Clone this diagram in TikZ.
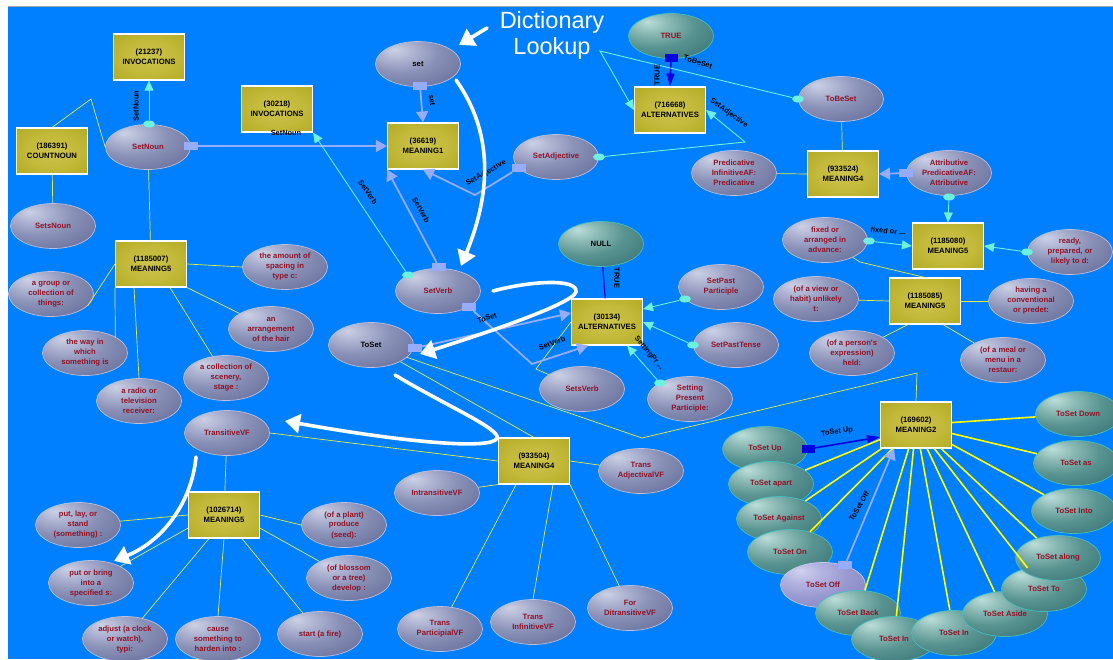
\documentclass[tikz,border=0pt]{standalone}
\usepackage{fontspec}
\newfontfamily\lsans{Liberation Sans}
\usetikzlibrary{shapes.geometric,arrows.meta}

\definecolor{bgblue}{RGB}{0,128,255}
\definecolor{lav}{RGB}{150,172,255}
\definecolor{cyn}{RGB}{110,240,222}
\definecolor{dblue}{RGB}{0,0,225}
\definecolor{ylw}{RGB}{228,236,70}
\definecolor{ylwb}{RGB}{255,255,0}
\definecolor{lblred}{RGB}{145,18,38}
\definecolor{ellrim}{RGB}{185,192,230}
\definecolor{tealrim}{RGB}{70,190,190}
\definecolor{lavrim}{RGB}{200,200,240}

% soft 3D fills for the ellipses and the boxes
\pgfdeclareradialshading{greyell}{\pgfpoint{-14bp}{16bp}}{%
  rgb(0bp)=(0.80,0.82,0.90);
  rgb(10bp)=(0.68,0.70,0.82);
  rgb(22bp)=(0.54,0.57,0.72);
  rgb(40bp)=(0.42,0.45,0.62);
  rgb(55bp)=(0.35,0.38,0.55);
  rgb(90bp)=(0.33,0.36,0.53)}
\pgfdeclareradialshading{tealell}{\pgfpoint{-14bp}{16bp}}{%
  rgb(0bp)=(0.74,0.87,0.85);
  rgb(10bp)=(0.56,0.74,0.72);
  rgb(24bp)=(0.35,0.58,0.57);
  rgb(45bp)=(0.21,0.44,0.45);
  rgb(60bp)=(0.17,0.38,0.40);
  rgb(90bp)=(0.16,0.37,0.39)}
\pgfdeclareradialshading{lavell}{\pgfpoint{-14bp}{16bp}}{%
  rgb(0bp)=(0.82,0.82,0.94);
  rgb(12bp)=(0.70,0.70,0.88);
  rgb(25bp)=(0.60,0.60,0.82);
  rgb(50bp)=(0.48,0.48,0.74);
  rgb(90bp)=(0.45,0.45,0.70)}
\pgfdeclareradialshading{boxsh}{\pgfpoint{0bp}{0bp}}{%
  rgb(0bp)=(0.80,0.77,0.30);
  rgb(20bp)=(0.76,0.72,0.22);
  rgb(38bp)=(0.69,0.66,0.13);
  rgb(50bp)=(0.62,0.59,0.07);
  rgb(72bp)=(0.58,0.55,0.04)}

\begin{document}
\begin{tikzpicture}[x=1pt,y=-1pt,
  txt/.style={font=\lsans\bfseries\fontsize{7.7pt}{10pt}\selectfont, align=center},
  box/.style={txt, rectangle, minimum width=71pt, minimum height=46pt, inner sep=0pt,
    draw=white, line width=1.1pt, shading=boxsh, text=black},
  ell/.style={txt, ellipse, minimum width=85pt, minimum height=45pt, inner sep=0pt,
    shading=greyell, draw=ellrim, line width=0.7pt, text=lblred},
  tel/.style={ell, shading=tealell, draw=tealrim},
  lel/.style={ell, shading=lavell, draw=lavrim},
  sqm/.style={rectangle, fill=lav, minimum width=14pt, minimum height=8pt, inner sep=0pt},
  bsq/.style={rectangle, fill=dblue, minimum width=13pt, minimum height=8pt, inner sep=0pt},
  cdot/.style={ellipse, fill=cyn, minimum width=12pt, minimum height=7pt, inner sep=0pt},
  elab/.style={font=\lsans\bfseries\fontsize{7.4pt}{9pt}\selectfont, text=black, inner sep=0pt},
  lavarrow/.style={draw=lav, line width=1.8pt, -{Triangle[length=11pt,width=12pt]}},
  cyarrow/.style={draw=cyn, line width=0.9pt, -{Triangle[length=10pt,width=9pt]}},
  blarrow/.style={draw=dblue, line width=1.6pt, -{Triangle[length=13pt,width=8pt]}},
  ythin/.style={draw=ylw, line width=0.7pt},
  ythick/.style={draw=ylwb, line width=1.6pt},
  warrow/.style={draw=white, line width=3.6pt, line cap=round, -{Triangle[length=15pt,width=19pt]}}
]
\useasboundingbox (0,0) rectangle (1113,659);
\fill[white] (0,0) rectangle (1113,659);
\fill[bgblue] (8,7) rectangle (1113,659);
\draw[gray!70, line width=0.8pt] (8,6.5) -- (1113,6.5);

% ---------- boxes ----------
\node[box] (inv1) at (149,57)  {(21237)\\INVOCATIONS};
\node[box] (inv2) at (277,109) {(30218)\\INVOCATIONS};
\node[box] (cnt)  at (52,151)  {(186391)\\COUNTNOUN};
\node[box] (m1)   at (423,146) {(36619)\\MEANING1};
\node[box] (alt1) at (670,110) {(716668)\\ALTERNATIVES};
\node[box] (m4a)  at (843,174) {(933524)\\MEANING4};
\node[box] (m5a)  at (151,264) {(1185007)\\MEANING5};
\node[box] (alt2) at (607,322) {(30134)\\ALTERNATIVES};
\node[box] (m5b)  at (948,246) {(1185080)\\MEANING5};
\node[box] (m5c)  at (925,301) {(1185085)\\MEANING5};
\node[box] (m2)   at (916,425) {(169602)\\MEANING2};
\node[box] (m4b)  at (534,461) {(933504)\\MEANING4};
\node[box] (m5d)  at (224,515) {(1026714)\\MEANING5};

% ---------- ellipses ----------
\node[ell, text=black] (eset) at (418,64) {set};
\node[tel] (etrue) at (671,36) {TRUE};
\node[ell] (esetnoun) at (148,147) {SetNoun};
\node[ell] (esetsnoun) at (53,226) {SetsNoun};
\node[ell] (esetadj) at (556,157) {SetAdjective};
\node[ell] (epred) at (734,173) {Predicative\\InfinitiveAF:\\Predicative};
\node[ell] (etobeset) at (841,99) {ToBeSet};
\node[ell] (eattr) at (949,173) {Attributive\\PredicativeAF:\\Attributive};
\node[ell] (efixed) at (825,240) {fixed or\\arranged in\\advance:};
\node[ell] (eready) at (1070,252) {ready,\\prepared, or\\likely to d:};
\node[ell] (eview) at (816,299) {(of a view or\\habit) unlikely\\t:};
\node[ell] (ehaving) at (1031,301) {having a\\conventional\\or predet:};
\node[ell] (eperson) at (852,353) {(of a person's\\expression)\\held:};
\node[ell] (emeal) at (1003,360) {(of a meal or\\menu in a\\restaur:};
\node[ell] (esetverb) at (438,291) {SetVerb};
\node[ell, text=black] (etoset) at (371,345) {ToSet};
\node[tel, text=black] (enull) at (601,244) {NULL};
\node[ell] (epastp) at (721,287) {SetPast\\Participle};
\node[ell] (epastt) at (736,345) {SetPastTense};
\node[ell] (esetsverb) at (582,389) {SetsVerb};
\node[ell] (epresp) at (690,399) {Setting\\Present\\Participle:};
\node[ell] (egroup) at (51,294) {a group or\\collection of\\things:};
\node[ell] (espacing) at (285,267) {the amount of\\spacing in\\type c:};
\node[ell] (ehair) at (271,329) {an\\arrangement\\of the hair};
\node[ell] (eway) at (85,353) {the way in\\which\\something is};
\node[ell] (eradio) at (139,401) {a radio or\\television\\receiver:};
\node[ell] (escenery) at (226,378) {a collection of\\scenery,\\stage :};
\node[ell] (etrans) at (227,433) {TransitiveVF};
\node[ell] (eintrans) at (437,493) {IntransitiveVF};
\node[ell] (eadjvf) at (641,471) {Trans\\AdjectivalVF};
\node[ell] (epartvf) at (440,629) {Trans\\ParticipialVF};
\node[ell] (einfvf) at (533,622) {Trans\\InfinitiveVF};
\node[ell] (editrans) at (630,608) {For\\DitransitiveVF};
\node[ell] (eputlay) at (78,525) {put, lay, or\\stand\\(something) :};
\node[ell] (eputbring) at (91,583) {put or bring\\into a\\specified s:};
\node[ell] (eadjust) at (125,639) {adjust (a clock\\or watch),\\typi:};
\node[ell] (ecause) at (218,639) {cause\\something to\\harden into :};
\node[ell] (estart) at (320,634) {start (a fire)};
\node[ell] (eplant) at (344,525) {(of a plant)\\produce\\(seed):};
\node[ell] (eblossom) at (349,578) {(of blossom\\or a tree)\\develop :};

% phrasal forms around MEANING2
\node[tel] (tdown) at (1078,414) {ToSet Down};
\node[tel] (tas) at (1076,463) {ToSet as};
\node[tel] (tinto) at (1074,511) {ToSet Into};
\node[tel] (tup) at (765,449) {ToSet Up};
\node[tel] (tapart) at (771,484) {ToSet apart};
\node[tel] (tagainst) at (779,519) {ToSet Against};
\node[tel] (ton) at (790,552) {ToSet On};
\node[lel] (toff) at (823,585) {ToSet Off};
\node[tel] (tback) at (858,613) {ToSet Back};
\node[tel] (tinl) at (894,639) {ToSet In};
\node[tel] (tinr) at (954,633) {ToSet In};
\node[tel] (taside) at (1005,614) {ToSet Aside};
\node[tel] (tto) at (1044,589) {ToSet To};
\node[tel] (talong) at (1058,558) {ToSet along};

% ---------- connector end markers ----------
\node[sqm] (qa) at (191,146) {};
\node[sqm] (qb) at (420,86) {};
\node[sqm] (qc) at (439,267) {};
\node[sqm] (qd) at (519,168) {};
\node[sqm] (qe) at (469,307) {};
\node[sqm] (qf) at (415,348) {};
\node[sqm] (qg) at (906,173) {};
\node[sqm] (qh) at (845,565) {};
\node[bsq] (ba) at (671,58) {};
\node[bsq] (bb) at (808,449) {};
\node[cdot] (ca) at (149,124) {};
\node[cdot] (cb) at (408,275) {};
\node[cdot] (cc) at (599,157) {};
\node[cdot] (cd) at (798,99) {};
\node[cdot] (ce) at (949,197) {};
\node[cdot] (cf) at (869,241) {};
\node[cdot] (cg) at (1027,252) {};
\node[cdot] (ch) at (685,299) {};
\node[cdot] (ci) at (693,345) {};
\node[cdot] (cj) at (660,383) {};

% bends
\coordinate (k1) at (91,99);
\coordinate (k2) at (642,438);
\coordinate (k3) at (917,373);
\coordinate (k4) at (536,369);
\coordinate (k5) at (860,262);
\coordinate (k6) at (475,195);
\coordinate (k7) at (532,364);
\coordinate (k8) at (745,142);
\coordinate (k9) at (600,51);

% ---------- thin plain links ----------
\draw[ythin] (cnt.north) -- (k1) -- (esetnoun.west);
\draw[ythin] (cnt) -- (esetsnoun);
\draw[ythin] (esetnoun) -- (m5a);
\draw[ythin] (m5a.west) -- (egroup.-18);
\draw[ythin] (m5a.east) -- (espacing.west);
\draw[ythin] (m5a.south east) -- (ehair);
\draw[ythin] (m5a.south west) -- (eway.north east);
\draw[ythin] ([xshift=-17pt]m5a.south) -- (eradio.north);
\draw[ythin] ([xshift=19pt]m5a.south) -- (escenery);
\draw[ythin] (etoset) -- (m4b.north);
\draw[ythin] (etoset) -- (k2) -- (k3) -- (m2.north);
\draw[ythin] (m4b.west) -- (etrans.east);
\draw[ythin] (m4b.south west) -- (eintrans);
\draw[ythin] (m4b.east) -- (eadjvf);
\draw[ythin] ([xshift=-18pt]m4b.south) -- (epartvf);
\draw[ythin] ([xshift=19pt]m4b.south) -- (einfvf.north);
\draw[ythin] (m4b.south east) -- (editrans);
\draw[ythin] (etrans) -- (m5d);
\draw[ythin] (m5d.west) -- (eputlay);
\draw[ythin] (m5d.200) -- (eputbring);
\draw[ythin] ([xshift=-15pt]m5d.south) -- (eadjust);
\draw[ythin] (m5d.south) -- (ecause.north);
\draw[ythin] ([xshift=18pt]m5d.south) -- (estart);
\draw[ythin] (m5d.east) -- (eplant.west);
\draw[ythin] (m5d.-20) -- (eblossom);
\draw[ythin] (alt2.west) -- (k4) -- (esetsverb);
\draw[ythin] (etobeset) -- (m4a);
\draw[ythin] (m4a.west) -- (epred);
\draw[ythin] (efixed) -- (k5) -- (m5c.north);
\draw[ythin] (m5c.west) -- (eview);
\draw[ythin] (m5c.east) -- (ehaving);
\draw[ythin] ([xshift=-17pt]m5c.south) -- (eperson);
\draw[ythin] ([xshift=18pt]m5c.south) -- (emeal);

\foreach \t in {tdown,tas,tinto,talong,tto,taside,tinr,tinl,tback,ton,tagainst,tapart}
  \draw[ythick] (m2) -- (\t);

% ---------- arrows ----------
\draw[lavarrow] (qa) -- (m1.west);
\draw[lavarrow] (qb) -- (m1.north);
\draw[lavarrow] (qc) -- (m1.south west);
\draw[lavarrow] (qd) -- (k6) -- (m1.south);
\draw[lavarrow] (qe) -- (k7) -- ([xshift=-19pt]alt2.south);
\draw[lavarrow] (qf) -- ([yshift=9pt]alt2.west);
\draw[lavarrow] (qg) -- (m4a.east);
\draw[lavarrow] (qh) -- ([xshift=-22pt]m2.south);

\draw[blarrow] (ba) -- (alt1.north);
\draw[blarrow] (bb) -- ([yshift=-12pt]m2.west);
\draw[draw=dblue, line width=1.2pt] (enull) -- (alt2);

\draw[cyarrow] (ca) -- (inv1.south);
\draw[cyarrow] (cb) -- (inv2.south east);
\draw[cyarrow] (cc) -- (k8) -- (alt1.east);
\draw[cyarrow] (cd) -- (k9) -- (alt1.west);
\draw[cyarrow] (ce) -- (m5b.north);
\draw[cyarrow] (cf) -- (m5b.west);
\draw[cyarrow] (cg) -- (m5b.east);
\draw[cyarrow] (ch) -- ([yshift=13pt]alt2.east);
\draw[cyarrow] (ci) -- (alt2.east);
\draw[cyarrow] (cj) -- ([xshift=-16pt]alt2.south east);

% ---------- connector labels ----------
\node[elab, rotate=90] (la) at (136,106) {SetNoun};
\node[elab] (lb) at (286,133) {SetNoun};
\node[elab, rotate=-80] (lc) at (432,100) {set};
\node[elab, rotate=-60] (ld) at (421,210) {SetVerb};
\node[elab, rotate=-55] (le) at (368,192) {SetVerb};
\node[elab, rotate=29] (lf) at (486,173) {SetAdjective};
\node[elab, rotate=-36] (lg) at (729,113) {SetAdjective};
\node[elab, rotate=90] (lh) at (657,75) {TRUE};
\node[elab, rotate=-18] (li) at (698,62) {ToBeSet};
\node[elab, rotate=-90] (lj) at (617,278) {TRUE};
\node[elab, rotate=18] (lk) at (487,318) {ToSet};
\node[elab, rotate=20] (ll) at (552,343) {SetVerb};
\node[elab, rotate=-50] (lm) at (649,353) {SettingPr ...};
\node[elab, rotate=-5] (ln) at (888,231) {fixed or ...};
\node[elab, rotate=9] (lo) at (837,432) {ToSet Up};
\node[elab, rotate=60] (lp) at (859,506) {ToSet Off};

% ---------- reading path drawn over the graph ----------
\node[font=\lsans\fontsize{23.5pt}{26pt}\selectfont, text=white, align=center, inner sep=0pt]
  (dict) at (552,35) {Dictionary\\Lookup};
\coordinate (w1a) at (487,28);
\coordinate (w1b) at (459,45);
\draw[warrow] (w1a) -- (w1b);
\coordinate (w2a) at (456,80);
\coordinate (w2b) at (497,138);
\coordinate (w2c) at (488,200);
\coordinate (w2d) at (461,266);
\draw[warrow] (w2a) .. controls (w2b) and (w2c) .. (w2d);
\coordinate (w3a) at (493,291);
\coordinate (w3b) at (530,281);
\coordinate (w3c) at (578,278);
\coordinate (w3d) at (576,292);
\coordinate (w3e) at (572,305);
\coordinate (w3f) at (470,338);
\coordinate (w3g) at (420,354);
\draw[warrow] (w3a) .. controls (w3b) and (w3c) .. (w3d) .. controls (w3e) and (w3f) .. (w3g);
\coordinate (w4a) at (395,375);
\coordinate (w4b) at (445,405);
\coordinate (w4c) at (492,425);
\coordinate (w4d) at (497,436);
\coordinate (w4e) at (502,450);
\coordinate (w4f) at (420,445);
\coordinate (w4g) at (285,421);
\draw[warrow] (w4a) .. controls (w4b) and (w4c) .. (w4d) .. controls (w4e) and (w4f) .. (w4g);
\coordinate (w5a) at (196,457);
\coordinate (w5b) at (192,500);
\coordinate (w5c) at (165,540);
\coordinate (w5d) at (114,561);
\draw[warrow] (w5a) .. controls (w5b) and (w5c) .. (w5d);
\end{tikzpicture}
\end{document}
